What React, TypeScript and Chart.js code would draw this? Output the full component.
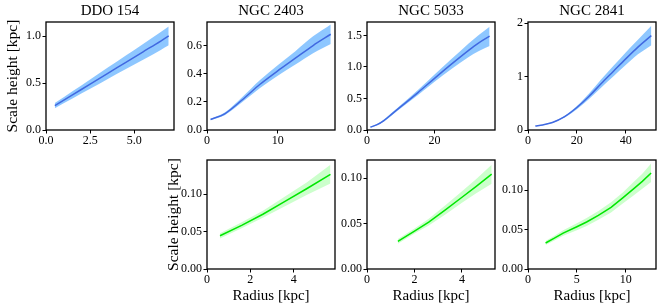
import React, { useEffect, useRef } from "react";
import { Chart, registerables } from "chart.js";
Chart.register(...registerables);

// ---------- DATA ----------
// Top row (blue)
const ddo154X = [0.5, 1.5, 2.5, 3.5, 4.5, 5.5, 6.5, 6.95];
const ddo154Line = [0.26, 0.375, 0.49, 0.605, 0.72, 0.835, 0.95, 1.005];
const ddo154Upper = [0.287, 0.413, 0.54, 0.666, 0.792, 0.919, 1.045, 1.105];
const ddo154Lower = [0.233, 0.337, 0.44, 0.544, 0.648, 0.751, 0.855, 0.905];

const n2403X = [0.5, 2.5, 5, 7.5, 10, 12.5, 15, 17.5];
const n2403Line = [0.075, 0.115, 0.215, 0.325, 0.42, 0.51, 0.6, 0.68];
const n2403Upper = [0.08, 0.125, 0.235, 0.355, 0.46, 0.56, 0.665, 0.75];
const n2403Lower = [0.07, 0.105, 0.198, 0.298, 0.385, 0.465, 0.545, 0.61];

const n5033X = [1, 3, 5, 7.5, 10, 15, 20, 25, 30, 33, 36.3];
const n5033Line = [0.045, 0.085, 0.15, 0.26, 0.37, 0.59, 0.82, 1.045, 1.26, 1.38, 1.49];
const n5033Upper = [0.055, 0.095, 0.165, 0.28, 0.395, 0.63, 0.88, 1.125, 1.37, 1.505, 1.64];
const n5033Lower = [0.035, 0.075, 0.135, 0.24, 0.345, 0.55, 0.765, 0.97, 1.155, 1.25, 1.335];

const n2841X = [3, 6, 10, 15, 20, 25, 30, 35, 40, 45, 50.5];
const n2841Line = [0.075, 0.095, 0.14, 0.25, 0.42, 0.63, 0.87, 1.1, 1.33, 1.55, 1.765];
const n2841Upper = [0.08, 0.1, 0.148, 0.265, 0.45, 0.685, 0.95, 1.2, 1.45, 1.69, 1.95];
const n2841Lower = [0.07, 0.09, 0.132, 0.235, 0.39, 0.58, 0.795, 1.005, 1.215, 1.415, 1.585];

// Bottom row (green)
const g2403X = [0.6, 1.6, 2.6, 3.6, 4.6, 5.7];
const g2403Line = [0.0445, 0.0585, 0.0737, 0.0905, 0.1075, 0.1268];
const g2403Upper = [0.048, 0.0625, 0.0785, 0.097, 0.116, 0.1395];
const g2403Lower = [0.041, 0.0545, 0.069, 0.084, 0.099, 0.1145];

const g5033X = [1.3, 2.0, 2.6, 3.3, 4.0, 4.6, 5.25];
const g5033Line = [0.0304, 0.0418, 0.0516, 0.065, 0.079, 0.091, 0.1044];
const g5033Upper = [0.033, 0.0447, 0.0552, 0.0702, 0.0855, 0.099, 0.1148];
const g5033Lower = [0.0278, 0.039, 0.048, 0.06, 0.073, 0.0835, 0.0938];

const g2841X = [1.8, 2.7, 3.6, 5.0, 6.0, 7.2, 8.5, 9.7, 10.8, 11.7, 12.6];
const g2841Line = [0.0329, 0.039, 0.0455, 0.0535, 0.0595, 0.068, 0.078, 0.09, 0.1015, 0.111, 0.1215];
const g2841Upper = [0.0355, 0.042, 0.049, 0.058, 0.0645, 0.0735, 0.0845, 0.097, 0.11, 0.1205, 0.1335];
const g2841Lower = [0.0305, 0.036, 0.042, 0.049, 0.0545, 0.0625, 0.0715, 0.083, 0.093, 0.1015, 0.11];

// Tick labels
const ddo154XTicks = ["0.0", "2.5", "5.0"];
const ddo154YTicks = ["0.0", "0.5", "1.0"];
const n2403XTicks = ["0", "10"];
const n2403YTicks = ["0.0", "0.2", "0.4", "0.6"];
const n5033XTicks = ["0", "20"];
const n5033YTicks = ["0.0", "0.5", "1.0", "1.5"];
const n2841XTicks = ["0", "20", "40"];
const n2841YTicks = ["0", "1", "2"];
const g2403XTicks = ["0", "2", "4"];
const g5033XTicks = ["0", "2", "4"];
const g2841XTicks = ["0", "5", "10"];
const gYTicks = ["0.00", "0.05", "0.10"];

const titles = ["DDO 154", "NGC 2403", "NGC 5033", "NGC 2841"];
const yAxisTitle = "Scale height [kpc]";
const xAxisTitle = "Radius [kpc]";

// ---------- LAYOUT ----------
const FONT = "'Liberation Serif', 'Times New Roman', serif";
const COL_LEFT = [46, 207, 367, 528];
const PLOT_W = 128;
const PAD_L = 46;
const PAD_R = 4;
const ROWS = [
  { canvasTop: 0, canvasH: 150, plotTop: 22, plotBottom: 130 },
  { canvasTop: 145, canvasH: 161, plotTop: 160, plotBottom: 269 },
];

type Spec = {
  row: number;
  col: number;
  title?: string;
  xs: number[];
  line: number[];
  upper: number[];
  lower: number[];
  xMax: number;
  yMax: number;
  xTicks: string[];
  yTicks: string[];
  blue: boolean;
  yTitle: boolean;
  xTitle: boolean;
};

const panels: Spec[] = [
  { row: 0, col: 0, title: titles[0], xs: ddo154X, line: ddo154Line, upper: ddo154Upper, lower: ddo154Lower, xMax: 7.25, yMax: 1.153, xTicks: ddo154XTicks, yTicks: ddo154YTicks, blue: true, yTitle: true, xTitle: false },
  { row: 0, col: 1, title: titles[1], xs: n2403X, line: n2403Line, upper: n2403Upper, lower: n2403Lower, xMax: 18.1, yMax: 0.767, xTicks: n2403XTicks, yTicks: n2403YTicks, blue: true, yTitle: false, xTitle: false },
  { row: 0, col: 2, title: titles[2], xs: n5033X, line: n5033Line, upper: n5033Upper, lower: n5033Lower, xMax: 37.9, yMax: 1.714, xTicks: n5033XTicks, yTicks: n5033YTicks, blue: true, yTitle: false, xTitle: false },
  { row: 0, col: 3, title: titles[3], xs: n2841X, line: n2841Line, upper: n2841Upper, lower: n2841Lower, xMax: 52.4, yMax: 2.02, xTicks: n2841XTicks, yTicks: n2841YTicks, blue: true, yTitle: false, xTitle: false },
  { row: 1, col: 1, xs: g2403X, line: g2403Line, upper: g2403Upper, lower: g2403Lower, xMax: 5.91, yMax: 0.146, xTicks: g2403XTicks, yTicks: gYTicks, blue: false, yTitle: true, xTitle: true },
  { row: 1, col: 2, xs: g5033X, line: g5033Line, upper: g5033Upper, lower: g5033Lower, xMax: 5.39, yMax: 0.12, xTicks: g5033XTicks, yTicks: gYTicks, blue: false, yTitle: false, xTitle: true },
  { row: 1, col: 3, xs: g2841X, line: g2841Line, upper: g2841Upper, lower: g2841Lower, xMax: 13.1, yMax: 0.138, xTicks: g2841XTicks, yTicks: gYTicks, blue: false, yTitle: false, xTitle: true },
];

function PanelChart({ spec }: { spec: Spec }) {
  const ref = useRef<HTMLCanvasElement>(null);
  const row = ROWS[spec.row];
  const width = PAD_L + PLOT_W + PAD_R;
  const height = row.canvasH;
  const padTop = row.plotTop - row.canvasTop;
  const padBottom = row.canvasTop + row.canvasH - row.plotBottom;

  useEffect(() => {
    if (!ref.current) return;
    const colors = spec.blue
      ? { band: "rgba(30,144,255,0.5)", line: "#4169e1" }
      : { band: "rgba(0,255,0,0.2)", line: "#00e600" };
    const pts = (ys: number[]) => spec.xs.map((x, i) => ({ x, y: ys[i] }));
    const interp = spec.blue ? "monotone" : "default";

    const framePlugin = {
      id: "frame",
      afterDraw(chart: any) {
        const { ctx, chartArea: a } = chart;
        ctx.save();
        ctx.strokeStyle = "#000";
        ctx.lineWidth = 1.3;
        ctx.strokeRect(a.left, a.top, a.right - a.left, a.bottom - a.top);
        ctx.restore();
      },
    };
    const titlePlugin = {
      id: "panelTitle",
      afterDraw(chart: any) {
        if (!spec.title) return;
        const { ctx, chartArea: a } = chart;
        ctx.save();
        ctx.fillStyle = "#000";
        ctx.font = `15px ${FONT}`;
        ctx.textAlign = "center";
        ctx.textBaseline = "middle";
        ctx.fillText(spec.title, (a.left + a.right) / 2, a.top - 10.5);
        ctx.restore();
      },
    };

    const tickFont = { family: FONT, size: 12, lineHeight: 1.2 };
    const grid = { display: true, drawOnChartArea: false, drawTicks: true, tickLength: 3.5, color: "#000", lineWidth: 1 };

    const chart = new Chart(ref.current, {
      type: "line",
      data: {
        datasets: [
          { data: pts(spec.line), borderColor: colors.line, borderWidth: 1.5, pointRadius: 0, fill: false, cubicInterpolationMode: interp, tension: 0 } as any,
          { data: pts(spec.lower), borderColor: "rgba(0,0,0,0)", borderWidth: 0, pointRadius: 0, fill: false, cubicInterpolationMode: interp, tension: 0 } as any,
          { data: pts(spec.upper), borderColor: "rgba(0,0,0,0)", borderWidth: 0, pointRadius: 0, fill: "-1", backgroundColor: colors.band, cubicInterpolationMode: interp, tension: 0 } as any,
        ],
      },
      options: {
        animation: false,
        responsive: false,
        events: [],
        layout: { padding: { top: padTop, right: PAD_R, left: 0, bottom: 0 } },
        plugins: { legend: { display: false }, tooltip: { enabled: false }, title: { display: false } },
        scales: {
          x: {
            type: "linear",
            min: 0,
            max: spec.xMax,
            afterFit: (s: any) => { s.height = padBottom; },
            afterBuildTicks: (s: any) => { s.ticks = spec.xTicks.map((t) => ({ value: parseFloat(t) })); },
            ticks: { callback: (_v: any, i: number) => spec.xTicks[i], font: tickFont, color: "#000", padding: 0, maxRotation: 0, autoSkip: false },
            grid,
            border: { display: false },
            title: { display: spec.xTitle, text: xAxisTitle, font: { family: FONT, size: 15, lineHeight: 1 }, color: "#000", padding: { top: 0, bottom: 2.5 } },
          },
          y: {
            type: "linear",
            min: 0,
            max: spec.yMax,
            afterFit: (s: any) => { s.width = PAD_L; },
            afterBuildTicks: (s: any) => { s.ticks = spec.yTicks.map((t) => ({ value: parseFloat(t) })); },
            ticks: { callback: (_v: any, i: number) => spec.yTicks[i], font: tickFont, color: "#000", padding: 1.5, autoSkip: false },
            grid,
            border: { display: false },
            title: { display: spec.yTitle, text: yAxisTitle, font: { family: FONT, size: 15.5, lineHeight: 1 }, color: "#000", padding: { top: 5.5, bottom: 0 } },
          },
        },
      } as any,
      plugins: [framePlugin, titlePlugin],
    });
    return () => chart.destroy();
  }, [spec]);

  return (
    <canvas
      ref={ref}
      width={width}
      height={height}
      style={{ position: "absolute", left: COL_LEFT[spec.col] - PAD_L, top: row.canvasTop, width, height }}
    />
  );
}

export default function App() {
  return (
    <div style={{ position: "absolute", left: 0, top: 0, width: 663, height: 306, background: "#fff", overflow: "hidden" }}>
      {panels.map((p, i) => (
        <PanelChart key={i} spec={p} />
      ))}
    </div>
  );
}
